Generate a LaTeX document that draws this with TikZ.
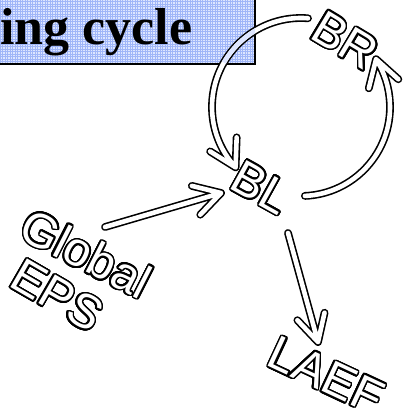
\documentclass[tikz,border=0pt]{standalone}
\usepackage{fontspec}
\usepackage{contour}
\newfontfamily\lblfont{Liberation Sans}
\newfontfamily\ttlfont{Liberation Serif}
\usetikzlibrary{calc}
\contourlength{1.6pt}
\contournumber{32}
\definecolor{gridbg}{RGB}{222,230,255}
\definecolor{gridln}{RGB}{160,182,248}
\tikzset{
  hollow/.style={draw=white, line width=4.6pt, line cap=round, line join=round,
    preaction={draw=black, line width=7.8pt, line cap=round, line join=round}},
  lbl/.style={font=\lblfont\fontsize{48}{52}\selectfont, inner sep=0pt, text=white},
  gridpic/.style={path picture={\draw[gridln, line width=0.7pt]
      (path picture bounding box.south west) grid[step=2.5pt]
      (path picture bounding box.north east);}},
  titlebox/.style={rectangle, draw=black, line width=2pt, fill=gridbg, gridpic,
    minimum width=270pt, minimum height=80pt, inner sep=0pt},
  ttl/.style={font=\ttlfont\bfseries\fontsize{52}{56}\selectfont, inner sep=0pt}
}
\begin{document}
\begin{tikzpicture}[x=1pt,y=1pt]
\useasboundingbox (0,0) rectangle (408,418);
\clip (0,0) rectangle (408,418);
\fill[white] (0,0) rectangle (408,418);
% title box
\node[titlebox, anchor=south east] (box) at (256,353) {};
\node[ttl, anchor=base west] (title) at (0,373) {ing cycle};
% labels
\node[lbl, rotate=-31] (BR) at (345,377) {\contour{black}{BR}};
\node[lbl, rotate=-29] (BL) at (261,230) {\contour{black}{BL}};
\node[lbl, rotate=-27] (GL) at (86,164) {\contour{black}{Global}};
\node[lbl, rotate=-30] (EPS) at (57,122) {\contour{black}{EPS}};
\node[lbl, rotate=-25] (LAEF) at (326,42) {\contour{black}{LAEF}};
% arrow end points
\coordinate (C) at (301,311);
\coordinate (gs) at (105,191);
\coordinate (gt) at (221,225);
\coordinate (ls) at (288,185);
\coordinate (lt) at (318,76);
\draw[hollow] ($(C)+(85.5:89)$) arc[start angle=85.5, end angle=222.7, radius=89]
  coordinate (a1t) -- +(88:30) (a1t) -- +(148:30);
\draw[hollow] ($(C)+(-87.5:89)$) arc[start angle=-87.5, end angle=32.5, radius=89]
  coordinate (a2t) -- +(256:30) (a2t) -- +(318:30);
\draw[hollow] (gs) -- (gt) ($(gt)!30pt!30:(gs)$) -- (gt) -- ($(gt)!30pt!-30:(gs)$);
\draw[hollow] (ls) -- (lt) ($(lt)!30pt!28:(ls)$) -- (lt) -- ($(lt)!30pt!-28:(ls)$);
% inside the title box the arc stays hollow: show the box fill through it
\begin{scope}
\clip (box.south west) ++(1pt,1pt) rectangle ($(box.north east)+(-1pt,-1pt)$);
\draw[gridbg, line width=4.6pt] ($(C)+(85.5:89)$) arc[start angle=85.5, end angle=150, radius=89];
\end{scope}
\end{tikzpicture}
\end{document}
